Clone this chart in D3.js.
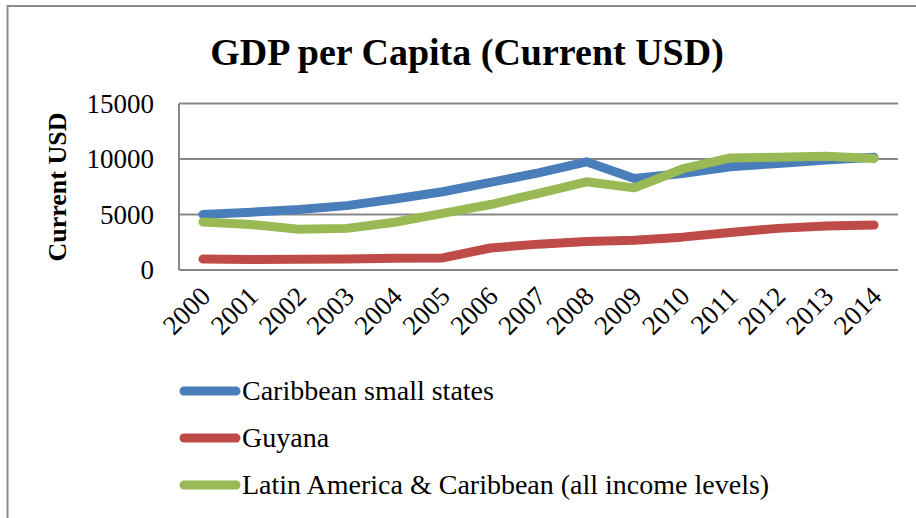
<!DOCTYPE html>
<html>
<head>
<meta charset="utf-8">
<script src="https://cdn.jsdelivr.net/npm/d3@7"></script>
<style>
body { margin: 0; background: #fff; }
text { font-family: "Liberation Serif", "DejaVu Serif", serif; fill: #000; }
</style>
</head>
<body>
<script>
var width = 916, height = 518;

var years = ["2000","2001","2002","2003","2004","2005","2006","2007","2008","2009","2010","2011","2012","2013","2014"];
var caribbean = [5000, 5200, 5450, 5800, 6400, 7050, 7900, 8750, 9750, 8250, 8700, 9300, 9600, 9900, 10150];
var guyana = [980, 950, 975, 1000, 1050, 1090, 1980, 2330, 2560, 2680, 2960, 3380, 3750, 3960, 4050];
var latam = [4330, 4100, 3680, 3750, 4300, 5100, 5900, 6900, 7950, 7400, 9100, 10100, 10150, 10250, 10050];
var yTicks = [0, 5000, 10000, 15000];

var series = [
  {name: "Caribbean small states", values: caribbean, color: "#4A7EBB"},
  {name: "Guyana", values: guyana, color: "#BE4B48"},
  {name: "Latin America & Caribbean (all income levels)", values: latam, color: "#98B954"}
];

var svg = d3.select("body").append("svg")
            .attr("width", width).attr("height", height);

// outer chart frame (runs off the right/bottom of the picture)
svg.append("rect").attr("x", 7.5).attr("y", 6).attr("width", 930).attr("height", 530)
   .attr("fill", "none").attr("stroke", "#8c8c8c").attr("stroke-width", 2);

var plotLeft = 179, plotRight = 898, plotTop = 103.5, plotBottom = 270;

var x = d3.scaleBand().domain(years).range([plotLeft, plotRight]);
var y = d3.scaleLinear().domain([0, 15000]).range([plotBottom, plotTop]);

// title
svg.append("text").attr("x", 467).attr("y", 65).attr("text-anchor", "middle")
   .style("font-size", "38px").style("font-weight", "bold")
   .text("GDP per Capita (Current USD)");

// gridlines
svg.append("g").selectAll("line").data(yTicks).enter().append("line")
   .attr("x1", plotLeft).attr("x2", plotRight)
   .attr("y1", function(d){ return y(d); }).attr("y2", function(d){ return y(d); })
   .attr("stroke", "#878787").attr("stroke-width", 2);

// y axis line
svg.append("line").attr("x1", plotLeft).attr("x2", plotLeft).attr("y1", plotTop).attr("y2", plotBottom)
   .attr("stroke", "#878787").attr("stroke-width", 2);

// y tick labels
svg.append("g").selectAll("text").data(yTicks).enter().append("text")
   .attr("x", 154).attr("y", function(d){ return y(d) + 9; })
   .attr("text-anchor", "end").style("font-size", "27px")
   .text(function(d){ return d; });

// y axis title
svg.append("text").attr("transform", "translate(66,187) rotate(-90)")
   .attr("text-anchor", "middle").style("font-size", "26px").style("font-weight", "bold")
   .text("Current USD");

// x tick labels
svg.append("g").selectAll("text").data(years).enter().append("text")
   .attr("transform", function(d){
       return "translate(" + (x(d) + x.bandwidth() / 2 + 9) + ",298) rotate(-45)";
   })
   .attr("text-anchor", "end").style("font-size", "27px")
   .text(function(d){ return d; });

// lines
var line = d3.line()
   .x(function(d, i){ return x(years[i]) + x.bandwidth() / 2; })
   .y(function(d){ return y(d); });

svg.append("g").selectAll("path").data(series).enter().append("path")
   .attr("d", function(d){ return line(d.values); })
   .attr("fill", "none").attr("stroke", function(d){ return d.color; })
   .attr("stroke-width", 9).attr("stroke-linecap", "round").attr("stroke-linejoin", "round");

// legend
var legend = svg.append("g").selectAll("g").data(series).enter().append("g")
   .attr("transform", function(d, i){ return "translate(184," + (391 + i * 47) + ")"; });

legend.append("line").attr("x1", 0).attr("x2", 52).attr("y1", 0).attr("y2", 0)
   .attr("stroke", function(d){ return d.color; })
   .attr("stroke-width", 9).attr("stroke-linecap", "round");

legend.append("text").attr("x", 58).attr("y", 9).style("font-size", "28px")
   .text(function(d){ return d.name; });
</script>
</body>
</html>
